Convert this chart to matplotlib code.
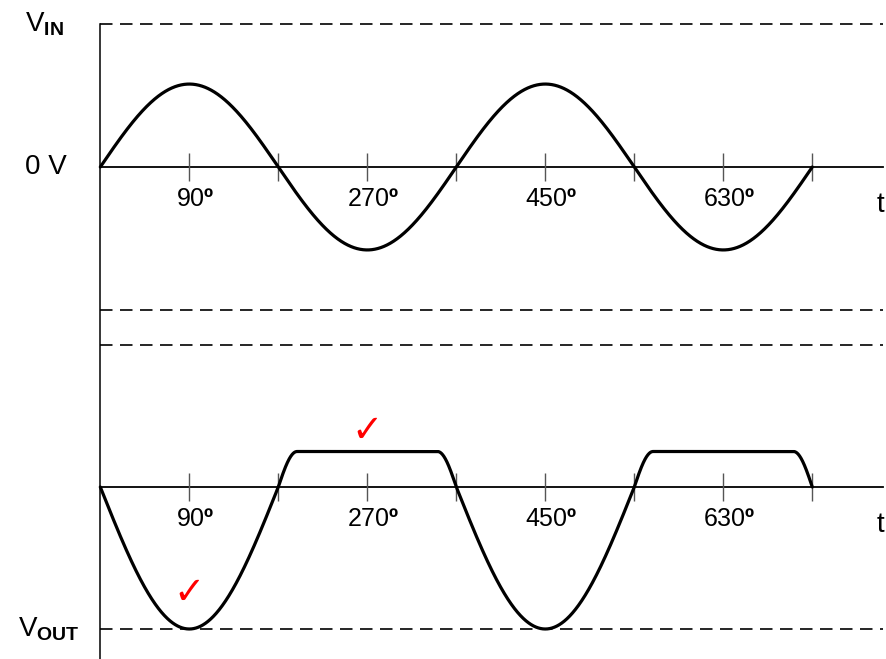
import numpy as np
import matplotlib
matplotlib.use("Agg")
import matplotlib.pyplot as plt
from matplotlib.lines import Line2D

plt.rcParams['font.family'] = ['Liberation Sans', 'DejaVu Sans']
plt.rcParams['mathtext.fontset'] = 'custom'
plt.rcParams['mathtext.rm'] = 'Liberation Sans'
plt.rcParams['mathtext.it'] = 'Liberation Sans'
plt.rcParams['mathtext.bf'] = 'Liberation Sans:bold'

# ---- data ----
tick_degrees = [90, 180, 270, 360, 450, 540, 630, 720]
label_degrees = [90, 270, 450, 630]
label_texts = ["90", "270", "450", "630"]
end_degree = 720
vin_peak = 0.58          # input amplitude relative to dashed reference level
vout_peak = 1.0          # negative output swing reaches V_OUT line
vout_clip = 0.25         # positive output clipped level
rise_degrees = 19        # degrees needed to reach the clip level
check_degrees = [270, 90]
check_levels = [0.39, -0.75]

W, H = 887, 659
fig = plt.figure(figsize=(W / 100, H / 100), dpi=100)

x0px = 100.3
pxdeg = 89.0 / 90.0
xlim = (-x0px / pxdeg, (W - x0px) / pxdeg)
x_end = (883 - x0px) / pxdeg


def add_ax(top, bottom):
    ax = fig.add_axes([0, 1 - bottom / H, 1, (bottom - top) / H])
    ax.set_xlim(*xlim)
    ax.set_ylim(-1, 1)
    ax.axis('off')
    return ax


ax_in = add_ax(24, 310)
ax_out = add_ax(345, 629)

theta = np.linspace(0, end_degree, 4000)
s = np.sin(np.radians(theta))
vin = vin_peak * s
phase = np.mod(theta, 360)
p = phase - 180
edge = np.minimum(p, 180 - p)
clipped = vout_clip * np.sin(np.pi / 2 * np.clip(edge / rise_degrees, 0, 1))
vout = np.where(phase < 180, -vout_peak * s, clipped)

dash = dict(color='black', lw=1.2, linestyle=(0, (7.5, 4.5)), clip_on=False)
tick_half_px = 14

for ax, sig, span_px in [(ax_in, vin, 143), (ax_out, vout, 142)]:
    ax.plot([0, x_end], [1, 1], **dash)
    ax.plot([0, x_end], [-1, -1], **dash)
    ax.plot([0, x_end], [0, 0], color='black', lw=1.3)
    th = tick_half_px / span_px
    ax.vlines(tick_degrees, -th, th, color='#555555', lw=1.0)
    ax.plot(theta, sig, color='black', lw=2.3, solid_capstyle='round', clip_on=False)
    for d, t in zip(label_degrees, label_texts):
        ax.annotate(t + r"$\mathbf{º}$", (d, 0), xytext=(4, -23), textcoords='offset points',
                    ha='center', va='center', fontsize=18)
    ax.annotate("t", (xlim[1], 0), xytext=(-2, -27), textcoords='offset points',
                ha='right', va='center', fontsize=20)

# vertical axis line
fig.add_artist(Line2D([x0px / W, x0px / W], [1 - 24 / H, 0], color='black', lw=1.1))

# labels on the left
ax_in.annotate(r"V$_{\mathbf{IN}}$", (xlim[0], 1), xytext=(18, 0), textcoords='offset points',
               ha='left', va='center', fontsize=20)
ax_in.annotate("0 V", (xlim[0], 0), xytext=(18, 0), textcoords='offset points',
               ha='left', va='center', fontsize=20)
ax_out.annotate(r"V$_{\mathbf{OUT}}$", (xlim[0], -1), xytext=(13, 0), textcoords='offset points',
                ha='left', va='center', fontsize=20, annotation_clip=False)

# red check marks
for d, lvl in zip(check_degrees, check_levels):
    ax_out.text(d, lvl, "✓", color='red', fontsize=27, ha='center', va='center',
                family='DejaVu Sans', fontweight='bold')

fig.savefig("out.png", dpi=100)
